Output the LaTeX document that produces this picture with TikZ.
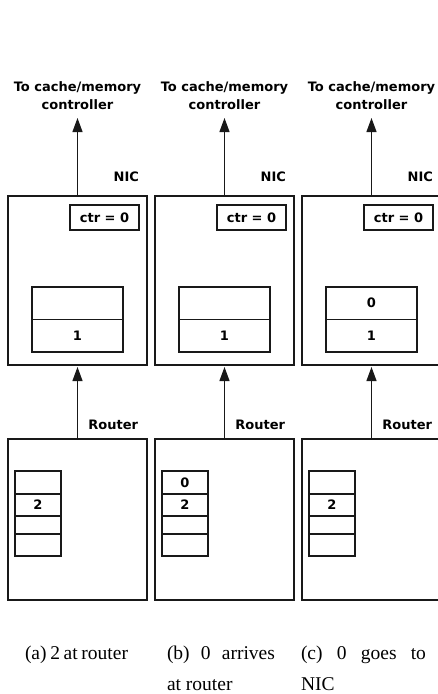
\documentclass[tikz,border=0pt]{standalone}
\usepackage{fontspec}
\setmainfont{Liberation Serif}
\newfontfamily\boxfont{DejaVu Sans}
\usetikzlibrary{arrows.meta,positioning}

\begin{document}
\begin{tikzpicture}[
                x=1pt, y=-1pt,
                font=\boxfont\bfseries\fontsize{13}{18}\selectfont,
                >={Triangle[length=14pt,width=10pt]},
                every node/.style={align=center, inner sep=0pt, outer sep=0pt},
                nicbox/.style={rectangle, draw=black!90, line width=1.2pt,
                        minimum width=139pt, minimum height=169pt},
                rtbox/.style={rectangle, draw=black!90, line width=1.2pt,
                        minimum width=139pt, minimum height=161pt},
                ctrbox/.style={rectangle, draw=black!90, line width=1.2pt,
                        minimum width=69pt, minimum height=25pt},
                nicslot/.style={rectangle, draw=black!90, line width=1.2pt,
                        minimum width=91pt, minimum height=32.5pt},
                rtslot/.style={rectangle, draw=black!90, line width=1.2pt,
                        minimum width=46pt, minimum height=22pt},
                caption/.style={font=\rmfamily\fontsize{19.5}{31}\selectfont,
                        align=justify, anchor=north west},
                arr/.style={->, line width=1.2pt, draw=black!90},
            ]
            \useasboundingbox (0,0) rectangle (438,694);

            % (a) 2 at router
            \node[nicbox] (nic_a) at (77.5,280.5) {};
            \node[ctrbox, below left=9pt and 8pt of nic_a.north east] (ctr_a) {ctr = 0};
            \node[nicslot, above=13pt of nic_a.south] (nb2_a) {1};
            \node[nicslot, above=0pt of nb2_a] (nb1_a) {};
            \node[above left=14pt and 8pt of nic_a.north east, anchor=south east] (nicl_a) {NIC};
            \node[above=86pt of nic_a] (mem_a) {To cache/memory\\controller};
            \node[rtbox, below=74pt of nic_a] (rt_a) {};
            \node[above left=9pt and 9pt of rt_a.north east] (rtl_a) {Router};
            \node[rtslot, minimum height=23pt, below right=32pt and 7pt of rt_a.north west] (rb1_a) {};
            \node[rtslot, below=0pt of rb1_a] (rb2_a) {2};
            \node[rtslot, minimum height=18pt, below=0pt of rb2_a] (rb3_a) {};
            \node[rtslot, below=0pt of rb3_a] (rb4_a) {};
            \draw[arr, shorten >=2pt] (rt_a.north) -- (nic_a.south);
            \draw[arr, shorten >=8pt] (nic_a.north) -- (mem_a.south);

            % (b) 0 arrives at router
            \node[nicbox, right=8pt of nic_a] (nic_b) {};
            \node[ctrbox, below left=9pt and 8pt of nic_b.north east] (ctr_b) {ctr = 0};
            \node[nicslot, above=13pt of nic_b.south] (nb2_b) {1};
            \node[nicslot, above=0pt of nb2_b] (nb1_b) {};
            \node[above left=14pt and 8pt of nic_b.north east, anchor=south east] (nicl_b) {NIC};
            \node[above=86pt of nic_b] (mem_b) {To cache/memory\\controller};
            \node[rtbox, below=74pt of nic_b] (rt_b) {};
            \node[above left=9pt and 9pt of rt_b.north east] (rtl_b) {Router};
            \node[rtslot, minimum height=23pt, below right=32pt and 7pt of rt_b.north west] (rb1_b) {0};
            \node[rtslot, below=0pt of rb1_b] (rb2_b) {2};
            \node[rtslot, minimum height=18pt, below=0pt of rb2_b] (rb3_b) {};
            \node[rtslot, below=0pt of rb3_b] (rb4_b) {};
            \draw[arr, shorten >=2pt] (rt_b.north) -- (nic_b.south);
            \draw[arr, shorten >=8pt] (nic_b.north) -- (mem_b.south);

            % (c) 0 goes to NIC
            \node[nicbox, right=8pt of nic_b] (nic_c) {};
            \node[ctrbox, below left=9pt and 8pt of nic_c.north east] (ctr_c) {ctr = 0};
            \node[nicslot, above=13pt of nic_c.south] (nb2_c) {1};
            \node[nicslot, above=0pt of nb2_c] (nb1_c) {0};
            \node[above left=14pt and 8pt of nic_c.north east, anchor=south east] (nicl_c) {NIC};
            \node[above=86pt of nic_c] (mem_c) {To cache/memory\\controller};
            \node[rtbox, below=74pt of nic_c] (rt_c) {};
            \node[above left=9pt and 9pt of rt_c.north east] (rtl_c) {Router};
            \node[rtslot, minimum height=23pt, below right=32pt and 7pt of rt_c.north west] (rb1_c) {};
            \node[rtslot, below=0pt of rb1_c] (rb2_c) {2};
            \node[rtslot, minimum height=18pt, below=0pt of rb2_c] (rb3_c) {};
            \node[rtslot, below=0pt of rb3_c] (rb4_c) {};
            \draw[arr, shorten >=2pt] (rt_c.north) -- (nic_c.south);
            \draw[arr, shorten >=8pt] (nic_c.north) -- (mem_c.south);

            % captions
            \node[caption, text width=103pt] (cap_a) at (25,646) {(a) 2 at router};
            \node[caption, text width=108pt] (cap_b) at (167,646) {(b) 0 arrives at router};
            \node[caption, text width=125pt] (cap_c) at (301,646) {(c) 0 goes to NIC};

        \end{tikzpicture}
\end{document}
